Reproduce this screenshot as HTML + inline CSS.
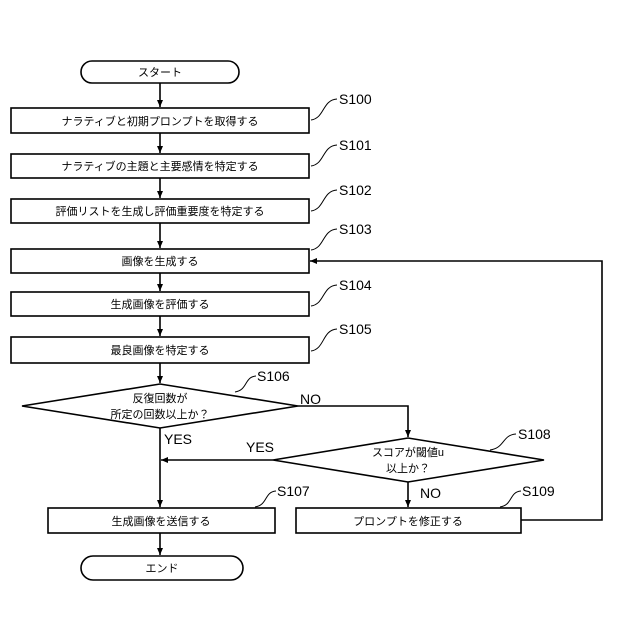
<!DOCTYPE html>
<html><head><meta charset="utf-8"><style>body{margin:0;background:#fff}svg{display:block}text{font-family:"Liberation Sans","Noto Sans CJK JP",sans-serif;fill:#000}</style></head><body>
<svg width="640" height="640" viewBox="0 0 640 640" xmlns="http://www.w3.org/2000/svg">
<defs><marker id="a" markerWidth="8" markerHeight="8" refX="7" refY="4" orient="auto" markerUnits="userSpaceOnUse"><path d="M0,1 L7,4 L0,7z" fill="#000"/></marker></defs>
<g fill="none" stroke="#000" stroke-width="1.6">
<rect x="81" y="61" width="158" height="22" rx="11"/>
<rect x="11" y="108" width="298" height="25"/>
<rect x="11" y="154" width="298" height="24"/>
<rect x="11" y="199" width="298" height="24"/>
<rect x="11" y="249" width="298" height="24"/>
<rect x="11" y="292" width="298" height="24"/>
<rect x="11" y="337" width="298" height="26"/>
<polygon points="22,406 160,384 298,406 160,428"/>
<polygon points="273,460 408,438 544,460 408,482"/>
<rect x="48" y="508" width="227" height="25"/>
<rect x="296" y="508" width="225" height="25"/>
<rect x="81" y="556" width="162" height="24" rx="12"/>
<g marker-end="url(#a)">
<line x1="160" y1="83" x2="160" y2="107"/>
<line x1="160" y1="133" x2="160" y2="153"/>
<line x1="160" y1="178" x2="160" y2="198"/>
<line x1="160" y1="223" x2="160" y2="248"/>
<line x1="160" y1="273" x2="160" y2="291"/>
<line x1="160" y1="316" x2="160" y2="336"/>
<line x1="160" y1="363" x2="160" y2="383"/>
<line x1="160" y1="428" x2="160" y2="507"/>
<line x1="160" y1="533" x2="160" y2="555"/>
<polyline points="298,406 408,406 408,437"/>
<line x1="273" y1="460" x2="161" y2="460"/>
<line x1="408" y1="482" x2="408" y2="507"/>
<polyline points="521,520 602,520 602,261 310,261"/>
</g>
<g stroke-width="1">
<path d="M311,120 C325,118 322,100 337,99"/>
<path d="M311,166 C325,164 322,146 337,145"/>
<path d="M311,211 C325,209 322,191 337,190"/>
<path d="M311,250 C325,248 322,230 337,229"/>
<path d="M311,306 C325,304 322,286 337,285"/>
<path d="M311,351 C325,349 322,330 337,329"/>
<path d="M235,392 C248,390 244,377 256,376"/>
<path d="M490,450 C505,448 502,435 516,434"/>
<path d="M255,507 C268,505 264,492 276,491"/>
<path d="M500,507 C513,505 509,492 521,491"/>
</g>
</g>
<g font-size="11" text-anchor="middle">
<text x="160" y="76">スタート</text>
<text x="160" y="125">ナラティブと初期プロンプトを取得する</text>
<text x="160" y="170">ナラティブの主題と主要感情を特定する</text>
<text x="160" y="215">評価リストを生成し評価重要度を特定する</text>
<text x="160" y="265">画像を生成する</text>
<text x="160" y="308">生成画像を評価する</text>
<text x="160" y="354">最良画像を特定する</text>
<text x="160" y="402">反復回数が</text>
<text x="160" y="418">所定の回数以上か？</text>
<text x="408" y="456">スコアが閾値u</text>
<text x="408" y="472">以上か？</text>
<text x="161" y="525">生成画像を送信する</text>
<text x="408" y="525">プロンプトを修正する</text>
<text x="162" y="572">エンド</text>
</g>
<g font-size="14">
<text x="339" y="104">S100</text>
<text x="339" y="150">S101</text>
<text x="339" y="195">S102</text>
<text x="339" y="234">S103</text>
<text x="339" y="290">S104</text>
<text x="339" y="334">S105</text>
<text x="257" y="381">S106</text>
<text x="518" y="439">S108</text>
<text x="277" y="496">S107</text>
<text x="522" y="496">S109</text>
<text x="300" y="404">NO</text>
<text x="164" y="444">YES</text>
<text x="246" y="452">YES</text>
<text x="420" y="498">NO</text>
</g>
</svg>
</body></html>
